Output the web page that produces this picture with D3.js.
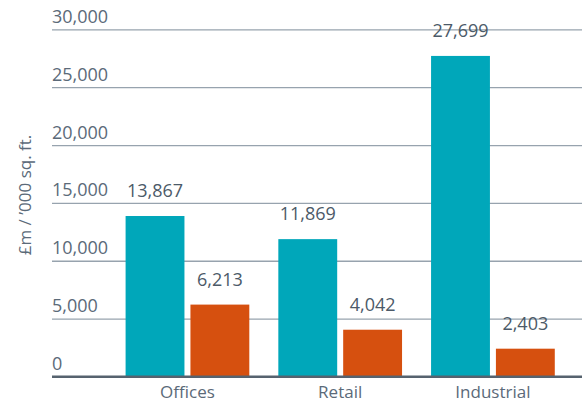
<!DOCTYPE html>
<html>
<head>
<meta charset="utf-8">
<script src="https://cdn.jsdelivr.net/npm/d3@7"></script>
<style>
  body { margin: 0; background: #fff; }
  text { font-family: "Open Sans", sans-serif; fill: #5b6a79; }
</style>
</head>
<body>
<div class="canva"></div>
<script>
var width = 588;
var height = 403;

// data
const categories = ['Offices', 'Retail', 'Industrial'];
const seriesNames = ['A', 'B'];
const seriesA = [13867, 11869, 27699];
const seriesB = [6213, 4042, 2403];
const yTicks = [0, 5000, 10000, 15000, 20000, 25000, 30000];
const colors = ['#00a7ba', '#d6500f'];

const rows = categories.map((c, i) => ({ cat: c, vals: [seriesA[i], seriesB[i]] }));

const svg = d3.select('.canva').append('svg')
    .attr('width', width)
    .attr('height', height);

const left = 52, right = 582;

const y = d3.scaleLinear()
    .domain([0, 30000])
    .range([376.5, 29.3]);

const x = d3.scaleBand()
    .domain(categories)
    .range([left, right])
    .paddingInner(0.19)
    .paddingOuter(0.33)
    .align(0.73);

const xs = d3.scaleBand()
    .domain(seriesNames)
    .range([0, x.bandwidth()])
    .paddingInner(0.0923);

// gridlines + tick labels sitting above the line
const yAxis = svg.append('g')
    .attr('transform', `translate(${left},0)`)
    .call(d3.axisRight(y).tickValues(yTicks).tickSize(right - left).tickFormat(d3.format(',')));

yAxis.select('.domain').remove();
yAxis.selectAll('.tick line')
    .attr('stroke', d => d === 0 ? '#56636f' : '#97a3ae')
    .attr('stroke-width', d => d === 0 ? 2 : 1.3);
yAxis.selectAll('.tick text')
    .attr('x', 0)
    .attr('y', -7)
    .attr('dy', null)
    .attr('text-anchor', 'start')
    .style('font-size', '18px')
    .style('fill', '#5b6a79');

// bars
const groups = svg.selectAll('.grp')
    .data(rows)
    .enter().append('g')
    .attr('class', 'grp')
    .attr('transform', d => `translate(${x(d.cat)},0)`);

groups.selectAll('rect')
    .data(d => d.vals.map((v, i) => ({ key: seriesNames[i], v: v, i: i })))
    .enter().append('rect')
    .attr('x', d => xs(d.key))
    .attr('y', d => y(d.v))
    .attr('width', xs.bandwidth())
    .attr('height', d => y(0) - y(d.v))
    .attr('fill', d => colors[d.i]);

groups.selectAll('.val')
    .data(d => d.vals.map((v, i) => ({ key: seriesNames[i], v: v })))
    .enter().append('text')
    .attr('class', 'val')
    .attr('x', d => xs(d.key) + xs.bandwidth() / 2)
    .attr('y', d => y(d.v) - 19)
    .attr('text-anchor', 'middle')
    .style('font-size', '18px')
    .style('fill', '#4c5a68')
    .text(d => d3.format(',')(d.v));

// baseline redrawn on top of bars
svg.append('line')
    .attr('x1', left).attr('x2', right)
    .attr('y1', y(0)).attr('y2', y(0))
    .attr('stroke', '#56636f')
    .attr('stroke-width', 2);

// category labels
svg.selectAll('.cat')
    .data(categories)
    .enter().append('text')
    .attr('class', 'cat')
    .attr('x', d => x(d) + x.bandwidth() / 2)
    .attr('y', 398)
    .attr('text-anchor', 'middle')
    .style('font-size', '17px')
    .text(d => d);

// y title
svg.append('text')
    .attr('transform', 'translate(31,195) rotate(-90)')
    .attr('text-anchor', 'middle')
    .style('font-size', '17px')
    .text('£m / \u2019000 sq. ft.');
</script>
</body>
</html>
